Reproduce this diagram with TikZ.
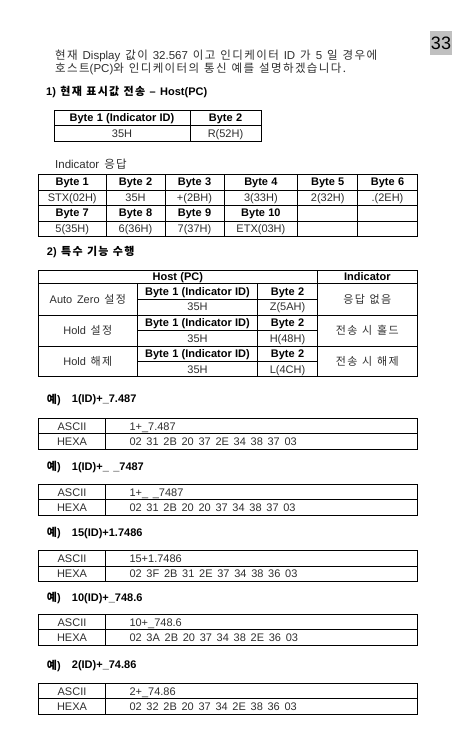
\documentclass[tikz,border=0pt]{standalone}
\usepackage{fontspec}
\setmainfont{Liberation Sans}
\newfontfamily\kr[Scale=1.0, LetterSpace=12]{Noto Sans CJK KR}
\usepackage{xcolor}
\usetikzlibrary{math}
\newcommand{\hg}[1]{{\kr #1}}
\definecolor{txtgray}{HTML}{2E2E2E}
\definecolor{pagegray}{HTML}{C0C0C0}

\tikzset{
  tblline/.style={line width=0.9pt, draw=black},
  cell/.style={inner sep=0pt, text height=7.9pt, text depth=0pt},
  hdr/.style={cell, font={\fontsize{11}{13}\selectfont\bfseries\spaceskip 0.3em\relax}, text=black},
  head/.style={anchor=west, font={\fontsize{11}{13}\selectfont\bfseries\spaceskip 0.4em\relax}, text=black, inner sep=0pt},
  body/.style={anchor=west, inner sep=0pt, font={\fontsize{11.5}{13}\selectfont\spaceskip 0.43em\relax}},
}

\begin{document}
\begin{tikzpicture}[x=1pt, y=-1pt, font={\fontsize{11}{13}\selectfont\spaceskip 0.43em\relax}, text=txtgray]

\tikzmath{
\tl = 38.3;
\tr = 417.3;
\sep = 105.7;
}

\useasboundingbox (0,0) rectangle (465,748);

% page number
\fill[pagegray] (430,31) rectangle (452,55);
\node[text=black, font=\fontsize{18}{18}\selectfont, inner sep=0pt] (pagenum) at (441,43) {33};

\node[body] (intro1) at (55,56) {\hg{현재} Display \hg{값이} 32.567 \hg{이고 인디케이터} ID \hg{가} 5 \hg{일 경우에}};
\node[body] (intro2) at (55,69) {\hg{호스트}(PC)\hg{와 인디케이터의 통신 예를 설명하겠습니다.}};

% 1) host request
\node[head] (head1) at (46,92) {1) \hg{현재 표시값 전송} -- Host(PC)};

\draw[tblline] (54,110) rectangle (261,141);
\draw[tblline] (54,125.5) -- (261,125.5);
\draw[tblline] (190,110) -- (190,141);
\node[hdr] (reqh1) at (122,117.8) {Byte 1 (Indicator ID)};
\node[hdr] (reqh2) at (225.5,117.8) {Byte 2};
\node[cell] (reqv1) at (122,133.3) {35H};
\node[cell] (reqv2) at (225.5,133.3) {R(52H)};

% indicator response
\node[body] (resplabel) at (55,164) {Indicator \hg{응답}};

\draw[tblline] (\tl,174) rectangle (\tr,236);
\foreach \y in {190, 205, 221}
    \draw[tblline] (\tl,\y) -- (\tr,\y);
\foreach \x in {106, 165, 224, 297.7, 357.7}
    \draw[tblline] (\x,174) -- (\x,236);

\foreach \cx/\val [count=\i] in {72.2/STX(02H), 135.5/35H, 194.5/+(2BH), 260.9/3(33H), 327.7/2(32H), 387.5/.(2EH)}
{
   \node[hdr] (resph\i) at (\cx,182) {Byte \i};
   \node[cell] (respv\i) at (\cx,197.5) {\val};
}
\foreach \cx/\val [count=\i from 7] in {72.2/5(35H), 135.5/6(36H), 194.5/7(37H), 260.9/ETX(03H)}
{
   \node[hdr] (resph\i) at (\cx,213) {Byte \i};
   \node[cell] (respv\i) at (\cx,228.5) {\val};
}

% 2) special functions
\node[head] (head2) at (46.7,252) {2) \hg{특수 기능 수행}};

\draw[tblline] (\tl,270) rectangle (\tr,376.7);
\foreach \y in {283.7, 315, 346}
    \draw[tblline] (\tl,\y) -- (\tr,\y);
\draw[tblline] (317.3,270) -- (317.3,376.7);
\draw[tblline] (137.3,283.7) -- (137.3,376.7);
\draw[tblline] (257.7,283.7) -- (257.7,376.7);
\node[hdr] (hosthdr) at (177.8,276.9) {Host (PC)};
\node[hdr] (indhdr) at (367.3,276.9) {Indicator};

\foreach \ry/\fname/\bval/\resp [count=\i] in {283.7/Auto Zero \hg{설정}/Z(5AH)/\hg{응답 없음}, 315/Hold \hg{설정}/H(48H)/\hg{전송 시 홀드}, 346/Hold \hg{해제}/L(4CH)/\hg{전송 시 해제}}
{
   \draw[tblline] (137.3,\ry+15.6) -- (317.3,\ry+15.6);
   \node[cell] (func\i) at (87.8,\ry+15.5) {\fname};
   \node[hdr] (funch1\i) at (197.5,\ry+7.8) {Byte 1 (Indicator ID)};
   \node[hdr] (funch2\i) at (287.5,\ry+7.8) {Byte 2};
   \node[cell] (funcid\i) at (197.5,\ry+23.3) {35H};
   \node[cell] (funcval\i) at (287.5,\ry+23.3) {\bval};
   \node[cell] (funcresp\i) at (367.3,\ry+15.5) {\resp};
}

% examples
\foreach \ey/\ety/\ename/\easc/\ehex [count=\i] in {
   400/418.3/1(ID)+\_7.487/1+\_7.487/02 31 2B 20 37 2E 34 38 37 03,
   467.3/484.3/1(ID)+\_ \_7487/1+\_ \_7487/02 31 2B 20 20 37 34 38 37 03,
   533.3/550.7/15(ID)+1.7486/15+1.7486/02 3F 2B 31 2E 37 34 38 36 03,
   598.3/614.3/10(ID)+\_748.6/10+\_748.6/02 3A 2B 20 37 34 38 2E 36 03,
   665.7/683.3/2(ID)+\_74.86/2+\_74.86/02 32 2B 20 37 34 2E 38 36 03}
{
   \node[head] (exlabel\i) at (46.7,\ey) {\hg{예})};
   \node[head] (exname\i) at (71.7,\ey) {\ename};
   \draw[tblline] (\tl,\ety) rectangle (\tr,\ety+31);
   \draw[tblline] (\tl,\ety+15.5) -- (\tr,\ety+15.5);
   \draw[tblline] (\sep,\ety) -- (\sep,\ety+31);
   \node[cell] (exasc\i) at (72,\ety+7.75) {ASCII};
   \node[cell] (exhex\i) at (72,\ety+23.25) {HEXA};
   \node[cell, anchor=west] (exascv\i) at (129.3,\ety+7.75) {\easc};
   \node[cell, anchor=west] (exhexv\i) at (129.3,\ety+23.25) {\ehex};
}

\end{tikzpicture}
\end{document}
